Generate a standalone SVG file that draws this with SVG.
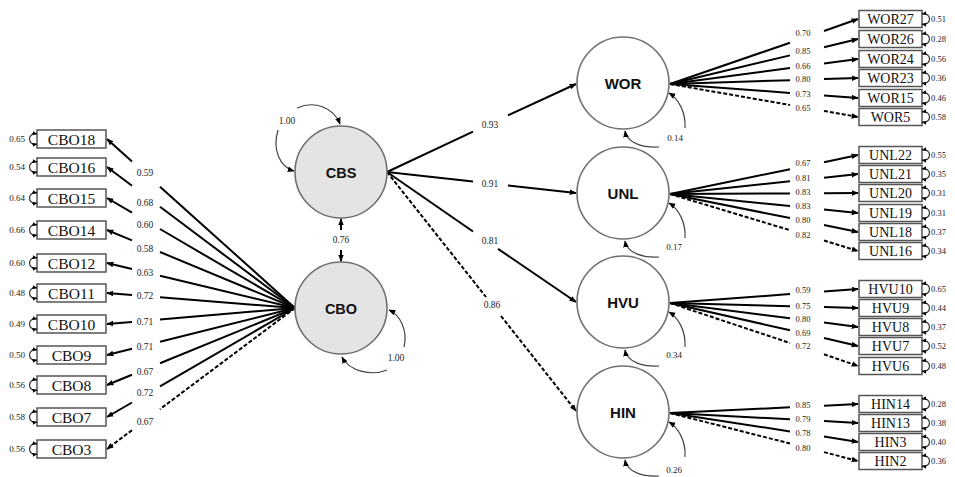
<svg xmlns="http://www.w3.org/2000/svg" xmlns:xlink="http://www.w3.org/1999/xlink" width="955" height="477" viewBox="0 0 955 477">
<style>
.ld{stroke:#000;stroke-width:2;fill:none}
.ds{stroke-dasharray:4,2}
.cv{stroke:#444;stroke-width:1.2;fill:none}
.lat{stroke:#707070;stroke-width:1.6}
.box{fill:#fff;stroke:#555;stroke-width:1.5}
.bt{font-family:"Liberation Serif",serif;fill:#111;text-anchor:middle}
.num{font-family:"Liberation Serif",serif;fill:#222}
.lt{font-family:"Liberation Sans",Arial,sans-serif;font-weight:bold;fill:#111;text-anchor:middle}
.sm{stroke:#333;stroke-width:1.2;fill:none}
</style>
<defs>
<marker id="ah" viewBox="0 0 10 10" refX="9" refY="5" markerWidth="7" markerHeight="7" markerUnits="userSpaceOnUse" orient="auto"><path d="M0,1 L10,5 L0,9 z" fill="#000"/></marker>
<marker id="as" viewBox="0 0 10 10" refX="9" refY="5" markerWidth="5" markerHeight="5" markerUnits="userSpaceOnUse" orient="auto-start-reverse"><path d="M0,1 L10,5 L0,9 z" fill="#000"/></marker>
<path id="errL" d="M37,-5 C27,-7 27,7 37,5"/>
<path id="errR" d="M0,-5 C10,-7 10,7 0,5"/>
</defs>
<rect width="955" height="477" fill="#fff"/>

<g id="connectors">
<!-- CBO loadings -->
<path class="ld" d="M295,308 L160,186.7"/><path class="ld" d="M132,161.5 L107,139" marker-end="url(#ah)"/>
<path class="ld" d="M295,308 L160,206.8"/><path class="ld" d="M132,185.8 L107,167" marker-end="url(#ah)"/>
<path class="ld" d="M295,308 L160,229"/><path class="ld" d="M132,212.6 L107,198" marker-end="url(#ah)"/>
<path class="ld" d="M295,308 L160,252"/><path class="ld" d="M132,240.4 L107,230" marker-end="url(#ah)"/>
<path class="ld" d="M295,308 L160,275.7"/><path class="ld" d="M132,269 L107,263" marker-end="url(#ah)"/>
<path class="ld" d="M295,308 L160,297.2"/><path class="ld" d="M132,295 L107,293" marker-end="url(#ah)"/>
<path class="ld" d="M295,308 L160,319.5"/><path class="ld" d="M132,321.9 L107,324" marker-end="url(#ah)"/>
<path class="ld" d="M295,308 L160,341.7"/><path class="ld" d="M132,348.7 L107,355" marker-end="url(#ah)"/>
<path class="ld" d="M295,308 L160,363.3"/><path class="ld" d="M132,374.8 L107,385" marker-end="url(#ah)"/>
<path class="ld" d="M295,308 L160,386.3"/><path class="ld" d="M132,402.5 L107,417" marker-end="url(#ah)"/>
<path class="ld ds" d="M295,308 L160,409.2"/><path class="ld ds" d="M132,430.2 L107,449" marker-end="url(#ah)"/>
<g class="num" font-size="9.5" text-anchor="middle">
<text x="145" y="176">0.59</text><text x="145" y="206">0.68</text><text x="145" y="228">0.60</text><text x="145" y="252">0.58</text>
<text x="145" y="276">0.63</text><text x="145" y="299">0.72</text><text x="145" y="325">0.71</text><text x="145" y="350">0.71</text>
<text x="145" y="375">0.67</text><text x="145" y="396">0.72</text><text x="145" y="425">0.67</text>
</g>
<!-- CBS <-> CBO -->
<path class="ld" stroke-width="1.5" d="M341,230 L341,219" marker-end="url(#ah)"/>
<path class="ld" stroke-width="1.5" d="M341,250 L341,261" marker-end="url(#ah)"/>
<text class="num" font-size="9.5" x="341" y="243" text-anchor="middle">0.76</text>
<!-- CBS, CBO variances -->
<path class="cv" d="M297,108 C315,100 334,108 340,124" marker-end="url(#ah)"/>
<path class="cv" d="M278,130 C272,150 280,167 294,171" marker-end="url(#ah)"/>
<text class="num" font-size="9.5" x="287" y="124" text-anchor="middle">1.00</text>
<path class="cv" d="M404,347 C408,330 400,315 389,310" marker-end="url(#ah)"/>
<path class="cv" d="M387,370 C372,376 350,372 342,357" marker-end="url(#ah)"/>
<text class="num" font-size="9.5" x="396" y="361" text-anchor="middle">1.00</text>
<!-- second order -->
<path class="ld" d="M387,172 L473,131.7"/><path class="ld" d="M508,115.3 L576,84" marker-end="url(#ah)"/>
<path class="ld" d="M387,172 L473,181.5"/><path class="ld" d="M508,185.4 L576,193" marker-end="url(#ah)"/>
<path class="ld" d="M387,172 L473,231.5"/><path class="ld" d="M498,248.8 L576,302" marker-end="url(#ah)"/>
<path class="ld ds" d="M387,172 L486,297"/><path class="ld ds" d="M501,316 L576,411" marker-end="url(#ah)"/>
<g class="num" font-size="9.5" text-anchor="middle">
<text x="490" y="128">0.93</text><text x="490" y="187">0.91</text><text x="490" y="244">0.81</text><text x="492" y="308">0.86</text>
</g>
<!-- residuals of first-order factors -->
<path class="cv" d="M685,128 C686,113 679,99 669,93" marker-end="url(#ah)"/>
<path class="cv" d="M659,147 C643,148 627,143 625,131" marker-end="url(#ah)"/>
<path class="cv" d="M685,238 C686,223 679,209 669,203" marker-end="url(#ah)"/>
<path class="cv" d="M659,257 C643,258 627,253 625,241" marker-end="url(#ah)"/>
<path class="cv" d="M685,347 C686,332 679,318 669,312" marker-end="url(#ah)"/>
<path class="cv" d="M659,366 C643,367 627,362 625,350" marker-end="url(#ah)"/>
<path class="cv" d="M685,457 C686,442 679,428 669,422" marker-end="url(#ah)"/>
<path class="cv" d="M659,476 C643,477 627,472 625,460" marker-end="url(#ah)"/>
<g class="num" font-size="9" text-anchor="middle">
<text x="675" y="141">0.14</text><text x="674" y="250">0.17</text><text x="674" y="358">0.34</text><text x="674" y="473">0.26</text>
</g>
<!-- WOR loadings -->
<path class="ld" d="M670,84 L790,42.7"/><path class="ld" d="M824,31 L858,19" marker-end="url(#ah)"/>
<path class="ld" d="M670,84 L790,55.4"/><path class="ld" d="M824,47.3 L858,39" marker-end="url(#ah)"/>
<path class="ld" d="M670,84 L790,68.1"/><path class="ld" d="M824,63.6 L858,59" marker-end="url(#ah)"/>
<path class="ld" d="M670,84 L790,80.2"/><path class="ld" d="M824,79.1 L858,78" marker-end="url(#ah)"/>
<path class="ld" d="M670,84 L790,92.9"/><path class="ld" d="M824,95.4 L858,98" marker-end="url(#ah)"/>
<path class="ld ds" d="M670,84 L790,105"/><path class="ld ds" d="M824,110.9 L858,117" marker-end="url(#ah)"/>
<!-- UNL loadings -->
<path class="ld" d="M670,194 L790,169.2"/><path class="ld" d="M824,162.2 L858,155" marker-end="url(#ah)"/>
<path class="ld" d="M670,194 L790,181.3"/><path class="ld" d="M824,177.7 L858,174" marker-end="url(#ah)"/>
<path class="ld" d="M670,194 L790,193.4"/><path class="ld" d="M824,193.2 L858,193" marker-end="url(#ah)"/>
<path class="ld" d="M670,194 L790,206.1"/><path class="ld" d="M824,209.5 L858,213" marker-end="url(#ah)"/>
<path class="ld" d="M670,194 L790,218.1"/><path class="ld" d="M824,225 L858,232" marker-end="url(#ah)"/>
<path class="ld ds" d="M670,194 L790,230.2"/><path class="ld ds" d="M824,240.5 L858,251" marker-end="url(#ah)"/>
<!-- HVU loadings -->
<path class="ld" d="M670,303 L790,294.1"/><path class="ld" d="M824,291.6 L858,289" marker-end="url(#ah)"/>
<path class="ld" d="M670,303 L790,306.2"/><path class="ld" d="M824,307.1 L858,308" marker-end="url(#ah)"/>
<path class="ld" d="M670,303 L790,318.2"/><path class="ld" d="M824,322.6 L858,327" marker-end="url(#ah)"/>
<path class="ld" d="M670,303 L790,330.3"/><path class="ld" d="M824,338 L858,346" marker-end="url(#ah)"/>
<path class="ld ds" d="M670,303 L790,343"/><path class="ld ds" d="M824,354.3 L858,366" marker-end="url(#ah)"/>
<!-- HIN loadings -->
<path class="ld" d="M670,413 L790,407.3"/><path class="ld" d="M824,405.7 L858,404" marker-end="url(#ah)"/>
<path class="ld" d="M670,413 L790,419.3"/><path class="ld" d="M824,421.1 L858,423" marker-end="url(#ah)"/>
<path class="ld" d="M670,413 L790,431.4"/><path class="ld" d="M824,436.6 L858,442" marker-end="url(#ah)"/>
<path class="ld ds" d="M670,413 L790,443.5"/><path class="ld ds" d="M824,452.1 L858,461" marker-end="url(#ah)"/>
<g class="num" font-size="8.5" text-anchor="middle">
<text x="803" y="36">0.70</text><text x="803" y="54">0.85</text><text x="803" y="69">0.66</text><text x="803" y="82">0.80</text><text x="803" y="97">0.73</text><text x="803" y="111">0.65</text>
<text x="803" y="166">0.67</text><text x="803" y="181">0.81</text><text x="803" y="195">0.83</text><text x="803" y="209">0.83</text><text x="803" y="223">0.80</text><text x="803" y="238">0.82</text>
<text x="803" y="293">0.59</text><text x="803" y="309">0.75</text><text x="803" y="322">0.80</text><text x="803" y="336">0.69</text><text x="803" y="349">0.72</text>
<text x="803" y="408">0.85</text><text x="803" y="422">0.79</text><text x="803" y="436">0.78</text><text x="803" y="451">0.80</text>
</g>
</g>

<!-- latent factors -->
<g id="CBS"><circle class="lat" cx="341" cy="172" r="46" fill="#e4e4e4"/><text class="lt" x="341" y="178" font-size="14.5">CBS</text></g>
<g id="CBO"><circle class="lat" cx="341" cy="308" r="46" fill="#e4e4e4"/><text class="lt" x="341" y="314" font-size="14.5">CBO</text></g>
<g id="WOR"><circle class="lat" cx="623" cy="83" r="46" fill="#fff"/><text class="lt" x="623" y="89" font-size="15">WOR</text></g>
<g id="UNL"><circle class="lat" cx="623" cy="193" r="46" fill="#fff"/><text class="lt" x="623" y="199" font-size="15">UNL</text></g>
<g id="HVU"><circle class="lat" cx="623" cy="302" r="46" fill="#fff"/><text class="lt" x="623" y="308" font-size="15">HVU</text></g>
<g id="HIN"><circle class="lat" cx="623" cy="412" r="46" fill="#fff"/><text class="lt" x="623" y="418" font-size="15">HIN</text></g>

<!-- CBO indicators -->
<g id="CBO18"><rect class="box" x="37" y="130" width="69" height="18"/><text class="bt" x="71.5" y="145" font-size="15.5">CBO18</text><use xlink:href="#errL" y="139" class="sm" marker-start="url(#as)" marker-end="url(#as)"/><text class="num" font-size="9" x="25" y="142" text-anchor="end">0.65</text></g>
<g id="CBO16"><rect class="box" x="37" y="158" width="69" height="18"/><text class="bt" x="71.5" y="173" font-size="15.5">CBO16</text><use xlink:href="#errL" y="167" class="sm" marker-start="url(#as)" marker-end="url(#as)"/><text class="num" font-size="9" x="25" y="170" text-anchor="end">0.54</text></g>
<g id="CBO15"><rect class="box" x="37" y="189" width="69" height="18"/><text class="bt" x="71.5" y="204" font-size="15.5">CBO15</text><use xlink:href="#errL" y="198" class="sm" marker-start="url(#as)" marker-end="url(#as)"/><text class="num" font-size="9" x="25" y="201" text-anchor="end">0.64</text></g>
<g id="CBO14"><rect class="box" x="37" y="221" width="69" height="18"/><text class="bt" x="71.5" y="236" font-size="15.5">CBO14</text><use xlink:href="#errL" y="230" class="sm" marker-start="url(#as)" marker-end="url(#as)"/><text class="num" font-size="9" x="25" y="233" text-anchor="end">0.66</text></g>
<g id="CBO12"><rect class="box" x="37" y="254" width="69" height="18"/><text class="bt" x="71.5" y="269" font-size="15.5">CBO12</text><use xlink:href="#errL" y="263" class="sm" marker-start="url(#as)" marker-end="url(#as)"/><text class="num" font-size="9" x="25" y="266" text-anchor="end">0.60</text></g>
<g id="CBO11"><rect class="box" x="37" y="284" width="69" height="18"/><text class="bt" x="71.5" y="299" font-size="15.5">CBO11</text><use xlink:href="#errL" y="293" class="sm" marker-start="url(#as)" marker-end="url(#as)"/><text class="num" font-size="9" x="25" y="296" text-anchor="end">0.48</text></g>
<g id="CBO10"><rect class="box" x="37" y="315" width="69" height="18"/><text class="bt" x="71.5" y="330" font-size="15.5">CBO10</text><use xlink:href="#errL" y="324" class="sm" marker-start="url(#as)" marker-end="url(#as)"/><text class="num" font-size="9" x="25" y="327" text-anchor="end">0.49</text></g>
<g id="CBO9"><rect class="box" x="37" y="346" width="69" height="18"/><text class="bt" x="71.5" y="361" font-size="15.5">CBO9</text><use xlink:href="#errL" y="355" class="sm" marker-start="url(#as)" marker-end="url(#as)"/><text class="num" font-size="9" x="25" y="358" text-anchor="end">0.50</text></g>
<g id="CBO8"><rect class="box" x="37" y="376" width="69" height="18"/><text class="bt" x="71.5" y="391" font-size="15.5">CBO8</text><use xlink:href="#errL" y="385" class="sm" marker-start="url(#as)" marker-end="url(#as)"/><text class="num" font-size="9" x="25" y="388" text-anchor="end">0.56</text></g>
<g id="CBO7"><rect class="box" x="37" y="408" width="69" height="18"/><text class="bt" x="71.5" y="423" font-size="15.5">CBO7</text><use xlink:href="#errL" y="417" class="sm" marker-start="url(#as)" marker-end="url(#as)"/><text class="num" font-size="9" x="25" y="420" text-anchor="end">0.58</text></g>
<g id="CBO3"><rect class="box" x="37" y="440" width="69" height="18"/><text class="bt" x="71.5" y="455" font-size="15.5">CBO3</text><use xlink:href="#errL" y="449" class="sm" marker-start="url(#as)" marker-end="url(#as)"/><text class="num" font-size="9" x="25" y="452" text-anchor="end">0.56</text></g>

<!-- right indicators -->
<g id="WOR27"><rect class="box" x="859" y="10.5" width="63" height="17"/><text class="bt" x="890.5" y="24" font-size="14">WOR27</text><use xlink:href="#errR" x="922" y="19" class="sm" marker-start="url(#as)" marker-end="url(#as)"/><text class="num" font-size="8.5" x="931" y="22">0.51</text></g>
<g id="WOR26"><rect class="box" x="859" y="30.5" width="63" height="17"/><text class="bt" x="890.5" y="44" font-size="14">WOR26</text><use xlink:href="#errR" x="922" y="39" class="sm" marker-start="url(#as)" marker-end="url(#as)"/><text class="num" font-size="8.5" x="931" y="42">0.28</text></g>
<g id="WOR24"><rect class="box" x="859" y="50.5" width="63" height="17"/><text class="bt" x="890.5" y="64" font-size="14">WOR24</text><use xlink:href="#errR" x="922" y="59" class="sm" marker-start="url(#as)" marker-end="url(#as)"/><text class="num" font-size="8.5" x="931" y="62">0.56</text></g>
<g id="WOR23"><rect class="box" x="859" y="69.5" width="63" height="17"/><text class="bt" x="890.5" y="83" font-size="14">WOR23</text><use xlink:href="#errR" x="922" y="78" class="sm" marker-start="url(#as)" marker-end="url(#as)"/><text class="num" font-size="8.5" x="931" y="81">0.36</text></g>
<g id="WOR15"><rect class="box" x="859" y="89.5" width="63" height="17"/><text class="bt" x="890.5" y="103" font-size="14">WOR15</text><use xlink:href="#errR" x="922" y="98" class="sm" marker-start="url(#as)" marker-end="url(#as)"/><text class="num" font-size="8.5" x="931" y="101">0.46</text></g>
<g id="WOR5"><rect class="box" x="859" y="108.5" width="63" height="17"/><text class="bt" x="890.5" y="122" font-size="14">WOR5</text><use xlink:href="#errR" x="922" y="117" class="sm" marker-start="url(#as)" marker-end="url(#as)"/><text class="num" font-size="8.5" x="931" y="120">0.58</text></g>

<g id="UNL22"><rect class="box" x="859" y="146.5" width="63" height="17"/><text class="bt" x="890.5" y="160" font-size="14">UNL22</text><use xlink:href="#errR" x="922" y="155" class="sm" marker-start="url(#as)" marker-end="url(#as)"/><text class="num" font-size="8.5" x="931" y="158">0.55</text></g>
<g id="UNL21"><rect class="box" x="859" y="165.5" width="63" height="17"/><text class="bt" x="890.5" y="179" font-size="14">UNL21</text><use xlink:href="#errR" x="922" y="174" class="sm" marker-start="url(#as)" marker-end="url(#as)"/><text class="num" font-size="8.5" x="931" y="177">0.35</text></g>
<g id="UNL20"><rect class="box" x="859" y="184.5" width="63" height="17"/><text class="bt" x="890.5" y="198" font-size="14">UNL20</text><use xlink:href="#errR" x="922" y="193" class="sm" marker-start="url(#as)" marker-end="url(#as)"/><text class="num" font-size="8.5" x="931" y="196">0.31</text></g>
<g id="UNL19"><rect class="box" x="859" y="204.5" width="63" height="17"/><text class="bt" x="890.5" y="218" font-size="14">UNL19</text><use xlink:href="#errR" x="922" y="213" class="sm" marker-start="url(#as)" marker-end="url(#as)"/><text class="num" font-size="8.5" x="931" y="216">0.31</text></g>
<g id="UNL18"><rect class="box" x="859" y="223.5" width="63" height="17"/><text class="bt" x="890.5" y="237" font-size="14">UNL18</text><use xlink:href="#errR" x="922" y="232" class="sm" marker-start="url(#as)" marker-end="url(#as)"/><text class="num" font-size="8.5" x="931" y="235">0.37</text></g>
<g id="UNL16"><rect class="box" x="859" y="242.5" width="63" height="17"/><text class="bt" x="890.5" y="256" font-size="14">UNL16</text><use xlink:href="#errR" x="922" y="251" class="sm" marker-start="url(#as)" marker-end="url(#as)"/><text class="num" font-size="8.5" x="931" y="254">0.34</text></g>

<g id="HVU10"><rect class="box" x="859" y="280.5" width="63" height="17"/><text class="bt" x="890.5" y="294" font-size="14">HVU10</text><use xlink:href="#errR" x="922" y="289" class="sm" marker-start="url(#as)" marker-end="url(#as)"/><text class="num" font-size="8.5" x="931" y="292">0.65</text></g>
<g id="HVU9"><rect class="box" x="859" y="299.5" width="63" height="17"/><text class="bt" x="890.5" y="313" font-size="14">HVU9</text><use xlink:href="#errR" x="922" y="308" class="sm" marker-start="url(#as)" marker-end="url(#as)"/><text class="num" font-size="8.5" x="931" y="311">0.44</text></g>
<g id="HVU8"><rect class="box" x="859" y="318.5" width="63" height="17"/><text class="bt" x="890.5" y="332" font-size="14">HVU8</text><use xlink:href="#errR" x="922" y="327" class="sm" marker-start="url(#as)" marker-end="url(#as)"/><text class="num" font-size="8.5" x="931" y="330">0.37</text></g>
<g id="HVU7"><rect class="box" x="859" y="337.5" width="63" height="17"/><text class="bt" x="890.5" y="351" font-size="14">HVU7</text><use xlink:href="#errR" x="922" y="346" class="sm" marker-start="url(#as)" marker-end="url(#as)"/><text class="num" font-size="8.5" x="931" y="349">0.52</text></g>
<g id="HVU6"><rect class="box" x="859" y="357.5" width="63" height="17"/><text class="bt" x="890.5" y="371" font-size="14">HVU6</text><use xlink:href="#errR" x="922" y="366" class="sm" marker-start="url(#as)" marker-end="url(#as)"/><text class="num" font-size="8.5" x="931" y="369">0.48</text></g>

<g id="HIN14"><rect class="box" x="859" y="395.5" width="63" height="17"/><text class="bt" x="890.5" y="409" font-size="14">HIN14</text><use xlink:href="#errR" x="922" y="404" class="sm" marker-start="url(#as)" marker-end="url(#as)"/><text class="num" font-size="8.5" x="931" y="407">0.28</text></g>
<g id="HIN13"><rect class="box" x="859" y="414.5" width="63" height="17"/><text class="bt" x="890.5" y="428" font-size="14">HIN13</text><use xlink:href="#errR" x="922" y="423" class="sm" marker-start="url(#as)" marker-end="url(#as)"/><text class="num" font-size="8.5" x="931" y="426">0.38</text></g>
<g id="HIN3"><rect class="box" x="859" y="433.5" width="63" height="17"/><text class="bt" x="890.5" y="447" font-size="14">HIN3</text><use xlink:href="#errR" x="922" y="442" class="sm" marker-start="url(#as)" marker-end="url(#as)"/><text class="num" font-size="8.5" x="931" y="445">0.40</text></g>
<g id="HIN2"><rect class="box" x="859" y="452.5" width="63" height="17"/><text class="bt" x="890.5" y="466" font-size="14">HIN2</text><use xlink:href="#errR" x="922" y="461" class="sm" marker-start="url(#as)" marker-end="url(#as)"/><text class="num" font-size="8.5" x="931" y="464">0.36</text></g>
</svg>
